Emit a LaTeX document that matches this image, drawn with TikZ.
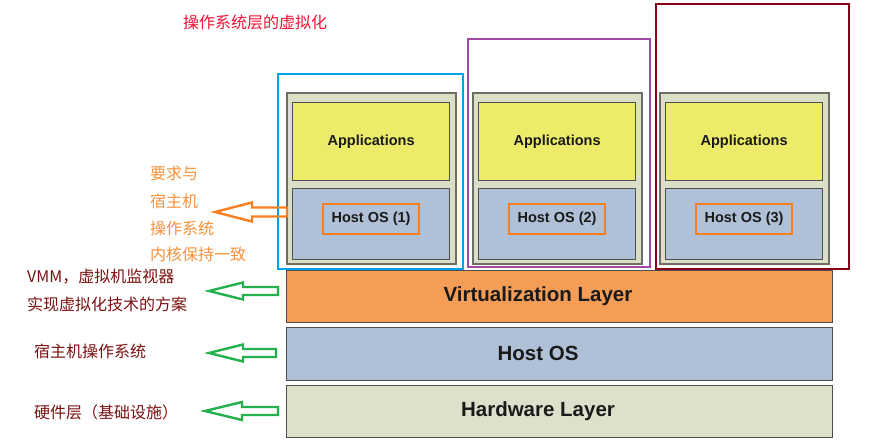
\documentclass[tikz,border=0pt]{standalone}
\usepackage{fontspec}
\setmainfont{Liberation Sans}
\newfontfamily\cjk{Noto Sans CJK SC}
\definecolor{contfill}{HTML}{DCDFC8}
\definecolor{contdraw}{HTML}{6E6E66}
\definecolor{appfill}{HTML}{EDEC6A}
\definecolor{hostfill}{HTML}{B0C1D7}
\definecolor{virtfill}{HTML}{F49D56}
\definecolor{hwfill}{HTML}{DEE0CB}
\definecolor{boxdraw}{HTML}{4E4E4E}
\definecolor{txtdark}{HTML}{1A1A1A}
\definecolor{hlorange}{HTML}{F77F22}
\definecolor{noteorange}{HTML}{F7923A}
\definecolor{notered}{HTML}{7B1010}
\definecolor{titlered}{HTML}{EE1133}
\definecolor{arrgreen}{HTML}{22B14C}
\definecolor{selblue}{HTML}{00A2E8}
\definecolor{selpurple}{HTML}{A349A4}
\definecolor{seldred}{HTML}{880015}
\begin{document}
\begin{tikzpicture}[x=1pt,y=-1pt,
  container/.style={draw=contdraw, fill=contfill, line width=1.6pt, anchor=north west, inner sep=0pt},
  appbox/.style={draw=boxdraw, fill=appfill, line width=1.2pt, anchor=north west, inner sep=0pt,
    text=txtdark, font=\bfseries\fontsize{14.5}{17}\selectfont},
  hostbox/.style={draw=boxdraw, fill=hostfill, line width=1.2pt, anchor=north west, inner sep=0pt},
  hlbox/.style={draw=hlorange, line width=2.2pt, minimum width=96pt, minimum height=30pt, inner sep=0pt,
    text=txtdark, font=\bfseries\fontsize{14.5}{17}\selectfont},
  layer/.style={draw=boxdraw, line width=1.4pt, anchor=north west, inner sep=0pt,
    minimum width=546pt},
  layertext/.style={text=txtdark, font=\bfseries\fontsize{20.5}{24}\selectfont, inner sep=0pt},
  selbox/.style={line width=2.4pt, anchor=north west, inner sep=0pt},
  hollowarrow/.style={line width=2.4pt, line join=miter},
  notetext/.style={font=\cjk\fontsize{16}{19}\selectfont, anchor=west, inner sep=0pt},
]
\useasboundingbox (0,0) rectangle (890,444);

% title
\node[notetext, anchor=center, text=titlered] (title) at (255,22) {操作系统层的虚拟化};

% virtual environments
\foreach \i/\x in {1/286,2/472,3/659} {
  \node[container, minimum width=169pt, minimum height=171pt] (c\i) at (\x,92) {};
  \node[appbox, minimum width=157pt, minimum height=78pt] (a\i) at (\x+6,102) {Applications};
  \node[hostbox, minimum width=157pt, minimum height=71pt] (h\i) at (\x+6,188) {};
  \node[hlbox] (o\i) at (\x+85,219) {Host OS (\i)};
}

% selection boxes
\node[selbox, draw=selblue, minimum width=185pt, minimum height=195pt] (selA) at (277,73) {};
\node[selbox, draw=selpurple, minimum width=182pt, minimum height=228pt] (selB) at (467,38) {};
\node[selbox, draw=seldred, minimum width=193pt, minimum height=265pt] (selC) at (655,3) {};

% layers
\node[layer, fill=virtfill, minimum height=52pt] (virt) at (286,270) {};
\node[layer, fill=hostfill, minimum height=53pt] (hos) at (286,327) {};
\node[layer, fill=hwfill, minimum height=52pt] (hw) at (286,385) {};
\node[layertext] (virtT) at (538,296) {Virtualization Layer};
\node[layertext] (hosT) at (538,353) {Host OS};
\node[layertext] (hwT) at (538,411) {Hardware Layer};

% orange note and arrow
\node[notetext, text=noteorange] (n1) at (150,173) {要求与};
\node[notetext, text=noteorange] (n2) at (150,201) {宿主机};
\node[notetext, text=noteorange] (n3) at (150,228) {操作系统};
\node[notetext, text=noteorange] (n4) at (150,254) {内核保持一致};
\coordinate (otip) at (215,212);
\draw[hollowarrow, draw=hlorange] (otip) -- ++(37,-9.5) -- ++(0,5) -- ++(35,0) -- ++(0,9)
  -- ++(-35,0) -- ++(0,5) -- cycle;

% dark red notes
\node[notetext, text=notered] (m1) at (27,277) {VMM，虚拟机监视器};
\node[notetext, text=notered] (m2) at (27,304) {实现虚拟化技术的方案};
\node[notetext, text=notered] (m3) at (34,351) {宿主机操作系统};
\node[notetext, text=notered] (m4) at (34,412) {硬件层（基础设施）};

% green arrows
\coordinate (g1) at (209,291);
\coordinate (g2) at (209,353);
\coordinate (g3) at (205,411);
\draw[hollowarrow, draw=arrgreen] (g1) -- ++(34,-8.5) -- ++(0,4.5) -- ++(35,0) -- ++(0,8)
  -- ++(-35,0) -- ++(0,4.5) -- cycle;
\draw[hollowarrow, draw=arrgreen] (g2) -- ++(34,-8.5) -- ++(0,4.5) -- ++(33,0) -- ++(0,8)
  -- ++(-33,0) -- ++(0,4.5) -- cycle;
\draw[hollowarrow, draw=arrgreen] (g3) -- ++(37,-9) -- ++(0,5) -- ++(36,0) -- ++(0,8)
  -- ++(-36,0) -- ++(0,5) -- cycle;
\end{tikzpicture}
\end{document}
